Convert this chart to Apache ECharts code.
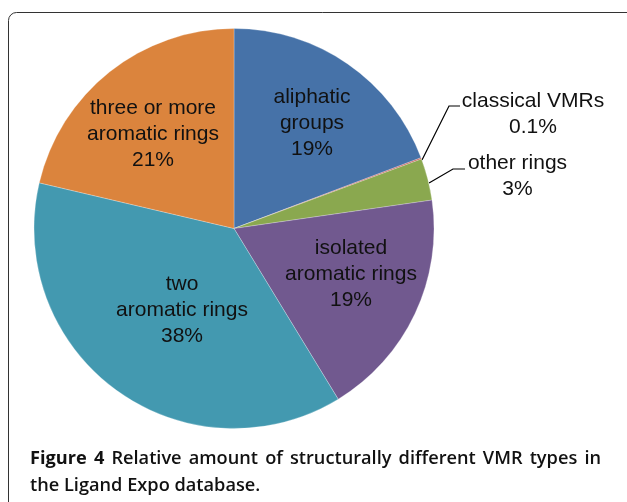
<!DOCTYPE html>
<html>
<head>
<meta charset="utf-8">
<script src="https://cdn.jsdelivr.net/npm/echarts@6/dist/echarts.min.js"></script>
<style>
html,body{margin:0;padding:0;background:#fff;}
#main{width:627px;height:502px;}
</style>
</head>
<body>
<div id="main"></div>
<script>
// ---- data ----
var categories = ['aliphatic\ngroups', 'classical VMRs', 'other rings', 'isolated\naromatic rings', 'two\naromatic rings', 'three or more\naromatic rings'];
var shares = [19.3, 0.1, 3.4, 18.6, 37.5, 21.4];
var captionBold = 'Figure 4';
var captionLine1 = 'Relative amount of structurally different VMR types in';
var captionLine2 = 'the Ligand Expo database.';

// ---- style / layout ----
var colors = ['#4672A8', '#C0504D', '#8AA84F', '#71598F', '#4399B0', '#DB843D'];
var CX = 234, CY = 228.5, R = 200;
var outside = [false, true, true, false, false, false];
// label block centres relative to pie centre
var labelOffsets = [[78, -105], [299, -114], [283.5, -52], [117, 45.5], [-52, 81.5], [-81, -94.5]];
// leader lines relative to pie centre
var leaderOffsets = {
  1: [[188, -68.5], [215, -122.5], [226, -122.5]],
  2: [[195, -45.5], [219, -59.5], [231, -59.5]]
};
var CAP_FONT = 'Open Sans', CAP_SIZE = 18.2;
var CAP_X0 = 30, CAP_X1 = 601, CAP_Y1 = 450, CAP_Y2 = 477;

function fmtPct(v) { return (v >= 1 ? Math.round(v) : v) + '%'; }

// justified first caption line
var ctx = document.createElement('canvas').getContext('2d');
function measure(t, w) { ctx.font = w + ' ' + CAP_SIZE + 'px "' + CAP_FONT + '"'; return ctx.measureText(t).width; }
var words = captionBold.split(' ').map(function (t) { return { t: t, w: 'bold' }; })
  .concat(captionLine1.split(' ').map(function (t) { return { t: t, w: 600 }; }));
var totalW = 0;
words.forEach(function (wd) { wd.width = measure(wd.t, wd.w); totalW += wd.width; });
var gap = (CAP_X1 - CAP_X0 - totalW) / (words.length - 1);
var captionEls = [];
var xx = CAP_X0;
words.forEach(function (wd) {
  captionEls.push({
    type: 'text', x: xx, y: CAP_Y1,
    style: { text: wd.t, fontFamily: CAP_FONT, fontWeight: wd.w, fontSize: CAP_SIZE, fill: '#111', verticalAlign: 'top' }
  });
  xx += wd.width + gap;
});
captionEls.push({
  type: 'text', x: CAP_X0, y: CAP_Y2,
  style: { text: captionLine2, fontFamily: CAP_FONT, fontWeight: 600, fontSize: CAP_SIZE, fill: '#111', verticalAlign: 'top' }
});

var chart = echarts.init(document.getElementById('main'));

var data = categories.map(function (c, i) {
  return {
    name: c,
    value: shares[i],
    itemStyle: { color: colors[i] },
    label: { position: outside[i] ? 'outside' : 'inside' },
    labelLine: { show: outside[i] }
  };
});

chart.setOption({
  animation: false,
  graphic: [
    {
      type: 'rect',
      shape: { x: 8.5, y: 12.5, width: 660, height: 560, r: 8 },
      style: { fill: 'none', stroke: '#333', lineWidth: 1 },
      z: 0
    }
  ].concat(captionEls),
  series: [{
    type: 'pie',
    center: [CX, CY],
    radius: R,
    startAngle: 90,
    clockwise: true,
    avoidLabelOverlap: false,
    itemStyle: { borderColor: 'rgba(255,255,255,0.5)', borderWidth: 0.5 },
    label: {
      color: '#111',
      fontFamily: 'Liberation Sans',
      fontSize: 21,
      lineHeight: 26,
      align: 'center',
      formatter: function (p) { return p.name + '\n' + fmtPct(p.value); }
    },
    labelLine: { lineStyle: { color: '#000', width: 1.2 } },
    labelLayout: function (p) {
      var i = p.dataIndex;
      var o = labelOffsets[i];
      var res = { x: CX + o[0], y: CY + o[1], align: 'center', verticalAlign: 'middle' };
      if (leaderOffsets[i]) {
        res.labelLinePoints = leaderOffsets[i].map(function (pt) { return [CX + pt[0], CY + pt[1]]; });
      }
      return res;
    },
    emphasis: { disabled: true },
    data: data
  }]
});
</script>
</body>
</html>
